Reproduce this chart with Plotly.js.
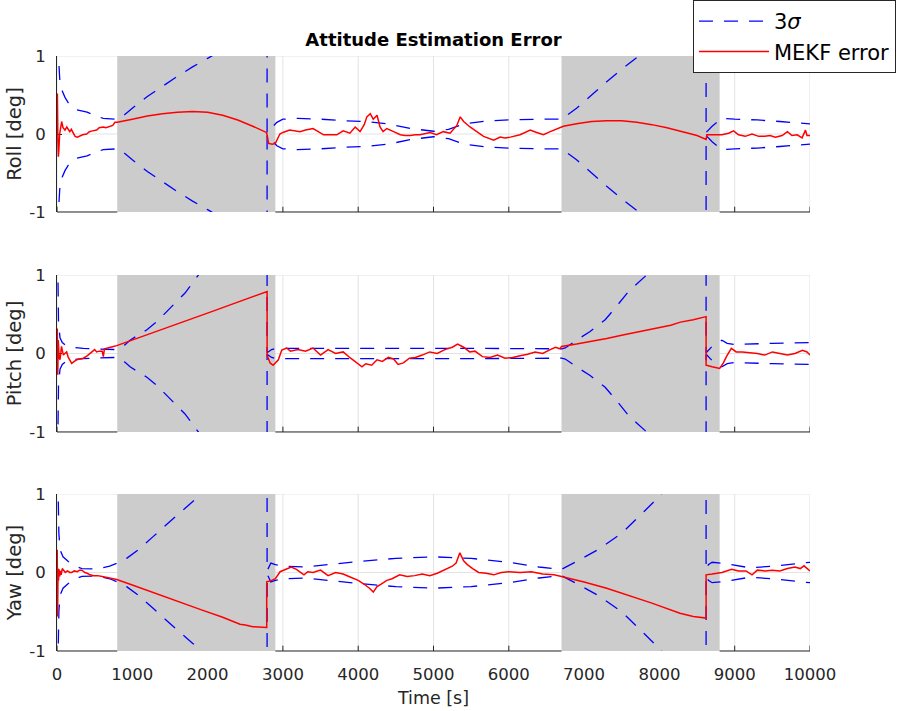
<!DOCTYPE html>
<html>
<head>
<meta charset="utf-8">
<script src="https://cdn.plot.ly/plotly-3.0.1.min.js"></script>
<style>html,body{margin:0;padding:0;background:#fff;}</style>
</head>
<body>
<div id="chart" style="width:902px;height:711px;"></div>
<script>
// ---------- data ----------
const xTicks = [0,1000,2000,3000,4000,5000,6000,7000,8000,9000,10000];
const xTickText = ['0','1000','2000','3000','4000','5000','6000','7000','8000','9000','10000'];
const yTicks = [-1,0,1];
const yTickText = ['-1','0','1'];
const panelNames = ['Roll [deg]','Pitch [deg]','Yaw [deg]'];
const gapStart = [800, 6700];
const gapEnd   = [2900, 8800];

// +3 sigma envelopes (the lower bound is the negative)
const rollSigT = [0,10,25,40,70,106,150,200,260,400,500,613,800,850,1000,1200,1400,1600,1800,2000,2200,2400,2790,
  2790,2850,2920,3000,3200,3500,3800,4100,4400,4700,5000,5200,5400,5700,6000,6400,6700,
  6900,7100,7300,7500,7700,7900,8300,8620,
  8620,8700,8830,9000,9300,9600,10000];
const rollSigV = [6,1.6,0.9,0.65,0.55,0.47,0.4,0.35,0.31,0.28,0.24,0.2,0.19,0.21,0.33,0.48,0.61,0.74,0.86,0.97,1.08,1.2,1.5,
  0.01,0.08,0.15,0.19,0.2,0.19,0.17,0.16,0.13,0.07,0.035,0.06,0.13,0.165,0.18,0.19,0.19,
  0.33,0.5,0.67,0.83,0.98,1.15,1.6,2.0,
  0.02,0.1,0.2,0.19,0.18,0.16,0.13];

const pitchSigT = [0,10,20,40,70,120,200,350,550,800,900,970,1190,1325,1545,1700,1877,2300,2790,
  2790,2850,2900,3500,4500,5500,6700,
  6750,6900,7080,7280,7430,7590,7830,8200,8620,
  8620,8700,8830,8900,9000,9500,10000];
const pitchSigV = [6,1.2,0.4,0.2,0.14,0.1,0.08,0.066,0.055,0.05,0.11,0.17,0.3,0.405,0.62,0.77,1.0,1.6,2.3,
  0.01,0.05,0.065,0.066,0.065,0.065,0.06,
  0.07,0.17,0.28,0.43,0.6,0.79,1.0,1.4,1.9,
  0.01,0.09,0.17,0.13,0.115,0.13,0.14];

const yawSigT = [0,10,25,40,80,150,250,330,530,700,800,925,1080,1280,1500,1800,2000,2400,2790,
  2790,2840,2900,3000,3300,3600,4000,4500,5000,5500,6000,6400,6700,
  6900,7200,7500,7800,8000,8300,8620,
  8620,8650,8700,8900,9200,9500,9800,10000];
const yawSigV = [6,1.3,0.5,0.29,0.2,0.14,0.08,0.05,0.045,0.08,0.12,0.18,0.29,0.46,0.65,0.9,1.07,1.4,1.75,
  0.02,0.12,0.1,0.08,0.07,0.1,0.14,0.18,0.2,0.18,0.13,0.07,0.04,
  0.14,0.3,0.5,0.78,0.97,1.3,1.65,
  0.03,0.1,0.13,0.11,0.06,0.08,0.11,0.13];

// MEKF error
const rollErrT = [0,5,12,18,25,35,50,62,80,106,130,150,170,190,210,240,270,305,340,394,430,470,527,560,615,650,704,740,770,800,
  1000,1200,1400,1600,1800,2000,2200,2400,2600,2780,2790,
  2810,2860,2900,2960,3000,3090,3150,3227,3300,3400,3470,3540,3620,3715,3800,3850,3890,3960,4025,4080,4115,4160,4200,4250,4290,4330,4380,4470,4560,4620,4690,4760,4820,4955,5040,5130,5220,5310,5355,5400,5485,5575,5665,5800,5885,5950,6020,6150,6285,6370,6460,6550,6660,6725,
  6900,7100,7300,7500,7700,7900,8100,8300,8500,8620,
  8630,8700,8830,8920,8985,9050,9140,9230,9320,9400,9470,9540,9630,9700,9760,9830,9895,9940,9960,10000];
const rollErrV = [0,0.52,-0.1,-0.29,-0.2,0.0,0.1,0.16,0.08,0.05,0.09,0.06,0.03,0.06,0.02,-0.03,-0.04,-0.02,-0.01,0.0,0.03,0.04,0.05,0.08,0.09,0.08,0.1,0.11,0.15,0.15,
  0.19,0.23,0.26,0.28,0.29,0.28,0.24,0.18,0.1,0.02,-0.01,
  -0.12,-0.13,-0.12,0.0,0.02,0.05,0.04,0.03,0.05,0.07,0.03,-0.01,-0.01,-0.01,0.04,0.02,0.01,0.09,0.03,0.12,0.22,0.26,0.19,0.24,0.09,0.03,0.07,0.03,-0.01,-0.02,-0.02,-0.01,-0.01,0.02,-0.01,0.03,0.01,0.11,0.22,0.16,0.09,0.03,-0.03,-0.08,-0.04,-0.05,-0.04,-0.01,0.05,0.02,-0.01,0.03,0.07,0.1,
  0.13,0.16,0.17,0.17,0.15,0.12,0.08,0.03,-0.02,-0.07,
  -0.01,-0.01,-0.01,0.01,0.04,-0.01,-0.03,0.0,-0.03,-0.03,-0.02,-0.04,-0.02,0.03,-0.02,-0.01,-0.05,0.05,-0.02,-0.02];

const pitchErrT = [0,4,10,17,28,40,60,84,105,128,150,173,195,230,261,300,350,400,438,480,500,527,560,600,615,630,660,704,750,793,
  1000,1200,1400,1680,1900,2100,2300,2500,2700,2790,
  2790,2830,2870,2940,2985,3050,3100,3200,3300,3400,3500,3600,3700,3800,3900,3980,4050,4100,4180,4250,4320,4400,4470,4530,4600,4680,4760,4850,4950,5050,5150,5250,5320,5400,5480,5550,5650,5750,5850,5950,6050,6150,6250,6350,6450,6550,6620,6680,6700,
  6900,7080,7300,7530,7750,7970,8150,8280,8450,8620,
  8620,8700,8800,8850,8890,8955,9020,9100,9200,9300,9400,9500,9600,9700,9800,9900,9960,10000];
const pitchErrV = [0,0.32,-0.27,0.17,-0.05,-0.08,0.09,-0.02,0.0,0.02,-0.05,-0.1,-0.125,-0.1,-0.08,-0.07,-0.06,-0.03,0.0,0.03,0.05,0.02,0.03,0.03,-0.04,0.06,0.07,0.08,0.09,0.1,
  0.17,0.24,0.31,0.405,0.48,0.55,0.62,0.69,0.76,0.79,
  -0.02,-0.12,-0.15,-0.08,0.045,0.07,0.03,0.05,0.03,0.07,-0.02,0.05,0.0,0.02,-0.06,-0.12,-0.17,-0.13,-0.15,-0.08,-0.1,-0.05,-0.07,-0.14,-0.12,-0.06,-0.05,-0.02,0.02,0.0,0.05,0.08,0.12,0.08,0.02,0.03,-0.04,-0.05,-0.02,-0.06,-0.05,-0.03,-0.01,0.02,0.0,0.05,0.08,0.06,0.09,
  0.12,0.15,0.19,0.24,0.28,0.32,0.36,0.4,0.43,0.47,
  -0.15,-0.17,-0.19,-0.12,-0.04,0.066,0.02,0.02,0.01,0.0,-0.02,0.02,0.0,-0.02,0.0,0.04,0.02,-0.02];

const yawErrT = [0,3,8,14,20,28,36,45,55,70,85,110,140,170,195,230,270,300,330,370,400,440,485,540,600,660,720,760,793,
  1000,1368,1600,1900,2200,2430,2500,2600,2785,
  2785,2850,2900,2963,3050,3110,3180,3230,3280,3330,3400,3500,3600,3700,3800,3900,4000,4080,4150,4200,4250,4300,4380,4450,4550,4650,4750,4850,4950,5050,5150,5250,5300,5350,5400,5450,5520,5600,5700,5800,5900,6000,6150,6300,6450,6600,6700,
  7000,7300,7600,7900,8273,8450,8620,
  8620,8700,8830,8960,9050,9150,9230,9300,9400,9500,9600,9700,9800,9870,9920,10000];
const yawErrV = [0,0.29,-0.56,0.05,-0.1,0.04,-0.05,0.02,-0.03,0.05,0.03,0.0,0.02,0.0,0.0,0.02,0.01,0.03,0.03,0.0,-0.01,-0.03,-0.04,-0.04,-0.05,-0.06,-0.07,-0.08,-0.09,
  -0.16,-0.29,-0.37,-0.47,-0.57,-0.66,-0.67,-0.69,-0.70,
  -0.12,-0.1,-0.08,0.01,0.05,0.07,0.04,0.01,-0.03,0.01,0.0,0.03,-0.04,0.0,-0.02,-0.06,-0.1,-0.15,-0.2,-0.25,-0.18,-0.15,-0.1,-0.08,-0.03,-0.05,-0.04,-0.02,-0.04,-0.01,0.03,0.08,0.12,0.25,0.15,0.1,0.05,0.0,-0.01,-0.03,0.0,0.01,0.0,0.01,-0.02,-0.03,-0.05,
  -0.12,-0.2,-0.29,-0.39,-0.52,-0.56,-0.58,
  -0.03,-0.02,0.0,0.04,0.02,0.02,-0.03,0.03,0.02,0.03,0.02,0.05,0.07,0.05,0.085,0.02];

// ---------- figure ----------
const sigT = [rollSigT, pitchSigT, yawSigT];
const sigV = [rollSigV, pitchSigV, yawSigV];
const errT = [rollErrT, pitchErrT, yawErrT];
const errV = [rollErrV, pitchErrV, yawErrV];

const BLUE = '#0000ff', RED = '#ff0000', AX = '#262626', GRID = '#e3e3e3', GAP = '#cccccc';
const FONT = 'DejaVu Sans, Liberation Sans, Arial, sans-serif';
const dash = '14px,11px';
const traces = [];
for (let i = 0; i < 3; i++) {
  const xa = i === 0 ? 'x' : 'x' + (i + 1);
  const ya = i === 0 ? 'y' : 'y' + (i + 1);
  traces.push({x: sigT[i], y: sigV[i], xaxis: xa, yaxis: ya, type: 'scatter', mode: 'lines',
    name: '3<i>σ</i>', showlegend: i === 0, legendrank: 1, line: {color: BLUE, width: 1.3, dash: dash, simplify: false}, hoverinfo: 'skip'});
  traces.push({x: sigT[i], y: sigV[i].map(v => -v), xaxis: xa, yaxis: ya, type: 'scatter', mode: 'lines',
    name: '-3σ', showlegend: false, line: {color: BLUE, width: 1.3, dash: dash, simplify: false}, hoverinfo: 'skip'});
}
for (let i = 0; i < 3; i++) {
  const xa = i === 0 ? 'x' : 'x' + (i + 1);
  const ya = i === 0 ? 'y' : 'y' + (i + 1);
  traces.push({x: errT[i], y: errV[i], xaxis: xa, yaxis: ya, type: 'scatter', mode: 'lines',
    name: 'MEKF error', showlegend: i === 0, legendrank: 2, line: {color: RED, width: 1.5}, hoverinfo: 'skip'});
}

const domains = [[0.7378, 1], [0.3681, 0.6319], [0, 0.2639]];
const layout = {
  width: 902, height: 711,
  margin: {l: 57, r: 92, t: 56, b: 60, autoexpand: false},
  paper_bgcolor: '#ffffff', plot_bgcolor: '#ffffff',
  font: {family: FONT, color: AX, size: 16},
  title: {text: '<b>Attitude Estimation Error</b>', font: {family: FONT, size: 18, color: '#000000'},
    x: 0.5, xref: 'paper', xanchor: 'center', y: 1 - 40 / 711, yref: 'container', yanchor: 'middle'},
  showlegend: true,
  legend: {x: 0.8446, xanchor: 'left', y: 1.094, yanchor: 'top', xref: 'paper', yref: 'paper',
    bgcolor: '#ffffff', bordercolor: AX, borderwidth: 1, font: {family: FONT, size: 21, color: '#000000'},
    itemwidth: 70, tracegroupgap: 0, traceorder: 'normal'},
  shapes: []
};
for (let i = 0; i < 3; i++) {
  const sx = i === 0 ? '' : String(i + 1);
  const xa = 'x' + sx, ya = 'y' + sx;
  layout['xaxis' + sx] = {
    domain: [0, 1], anchor: ya, range: [0, 10000], tickvals: xTicks, ticktext: xTickText,
    showticklabels: i === 2, ticks: '', showline: false, zeroline: false,
    showgrid: false, layer: 'below traces',
    tickfont: {family: FONT, size: 16.5, color: AX}, ticklabelstandoff: 11, fixedrange: true,
    title: i === 2 ? {text: 'Time [s]', font: {family: FONT, size: 17.5, color: AX}, standoff: 9} : {text: ''}
  };
  layout['yaxis' + sx] = {
    domain: domains[i], anchor: xa, range: [-1, 1], tickvals: yTicks, ticktext: yTickText,
    ticks: 'inside', ticklen: 5, tickcolor: AX, tickwidth: 1,
    showline: true, linecolor: AX, linewidth: 1, zeroline: false,
    showgrid: false, layer: 'below traces',
    tickfont: {family: FONT, size: 16.5, color: AX}, ticklabelstandoff: 7, fixedrange: true,
    title: {text: panelNames[i], font: {family: FONT, size: 19.5, color: AX}, standoff: 2}
  };
  // grid lines
  xTicks.forEach(t => layout.shapes.push({type: 'line', xref: xa, yref: ya + ' domain', x0: t, x1: t, y0: 0, y1: 1,
    line: {color: GRID, width: 1}, layer: 'below'}));
  yTicks.forEach(v => layout.shapes.push({type: 'line', xref: xa + ' domain', yref: ya, x0: 0, x1: 1, y0: v, y1: v,
    line: {color: GRID, width: 1}, layer: 'below'}));
  // grey no-measurement intervals
  for (let g = 0; g < gapStart.length; g++) {
    layout.shapes.push({type: 'rect', xref: xa, yref: ya + ' domain', x0: gapStart[g], x1: gapEnd[g], y0: 0, y1: 1,
      fillcolor: GAP, line: {width: 0}, layer: 'below'});
  }
  // bottom axis line only where not covered by grey
  const segs = [[0, gapStart[0]], [gapEnd[0], gapStart[1]], [gapEnd[1], 10000]];
  segs.forEach(s => layout.shapes.push({type: 'line', xref: xa, yref: ya + ' domain', x0: s[0], x1: s[1], y0: 0, y1: 0,
    line: {color: AX, width: 1}, layer: 'below'}));
  // inside tick marks where visible
  xTicks.forEach(t => {
    const hidden = (t > gapStart[0] && t < gapEnd[0]) || (t > gapStart[1] && t < gapEnd[1]);
    if (!hidden) layout.shapes.push({type: 'line', xref: xa, yref: ya + ' domain', x0: t, x1: t, y0: 0, y1: 0.034,
      line: {color: AX, width: 1}, layer: 'below'});
  });
}

Plotly.newPlot('chart', traces, layout, {displayModeBar: false, staticPlot: true});
</script>
</body>
</html>
